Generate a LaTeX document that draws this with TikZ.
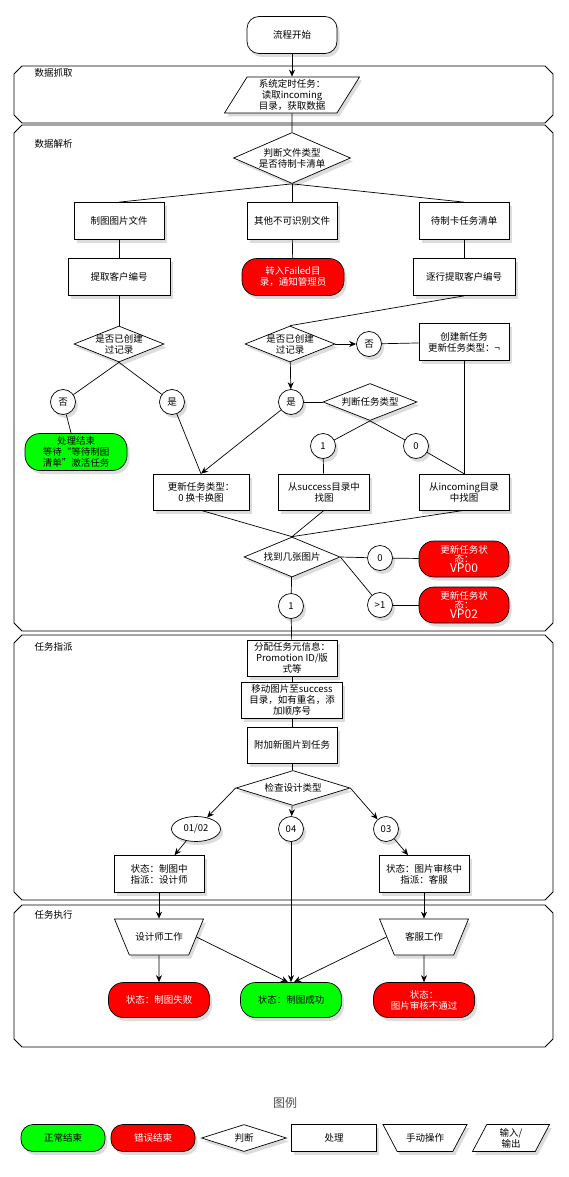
\documentclass[tikz,border=0pt]{standalone}
\usepackage{fontspec}
\setmainfont{Noto Sans CJK SC}
\usetikzlibrary{shapes.geometric,shadows,arrows.meta}
\definecolor{okgreen}{RGB}{0,255,0}
\definecolor{errred}{RGB}{255,0,0}
\tikzset{>={Stealth[length=7pt,width=6pt]}}

\begin{document}
\begin{tikzpicture}[x=1pt,y=-1pt,line width=0.7pt,
  font=\fontsize{9.5}{11}\selectfont,
  nodeshadow/.style={drop shadow={shadow xshift=2.5pt,shadow yshift=-3.5pt,opacity=0.28}},
  proc/.style={draw,fill=white,align=center,inner sep=1pt,minimum width=90,minimum height=37,nodeshadow},
  endok/.style={proc,rounded corners=15pt,fill=okgreen},
  enderr/.style={proc,rounded corners=15pt,fill=errred,text=white},
  dec/.style={draw,fill=white,diamond,aspect=2.5,inner sep=-4pt,align=center,nodeshadow},
  pick/.style={draw,fill=white,circle,minimum size=25,inner sep=0pt,nodeshadow},
  manual/.style={draw,fill=white,trapezium,shape border rotate=180,trapezium angle=65,trapezium stretches body,minimum width=89,minimum height=36,inner xsep=1pt,inner ysep=11.5pt,nodeshadow},
  io/.style={draw,fill=white,trapezium,trapezium left angle=54,trapezium right angle=126,trapezium stretches body,align=center,inner sep=0pt,minimum height=36,nodeshadow},
  lane/.style={draw,line width=0.8pt},
  lanetext/.style={anchor=west},
  tight/.style={font=\fontsize{9.5}{9.5}\selectfont}]
\useasboundingbox (0,0) rectangle (568,1177);

\foreach \ya/\yb/\yt/\lname in {66/123/73/数据抓取,125/631/144/数据解析,635/900/647/任务指派,905/1047/915/任务执行}{
  \draw[lane] (22,\ya) -- (545,\ya) -- (553,\ya+8) -- (553,\yb-8) -- (545,\yb) -- (22,\yb) -- (14,\yb-8) -- (14,\ya+8) -- cycle;
  \node[lanetext] (lane\ya) at (31,\yt) {\lname};
}

\node[proc,rounded corners=12pt] (start) at (292,35) {流程开始};
\node[io,minimum width=135] (fetch) at (292,95) {系统定时任务：\\读取incoming\\目录，获取数据};
\node[dec,minimum width=117,minimum height=51] (filetype) at (292,158) {判断文件类型\\是否待制卡清单};
\node[proc] (imgfile) at (119,221) {制图图片文件};
\node[proc] (otherfile) at (292,221) {其他不可识别文件};
\node[proc] (cardlist) at (464,221) {待制卡任务清单};
\node[proc,minimum width=102] (getcust) at (119,277) {提取客户编号};
\node[enderr,minimum width=102] (failed) at (293,277) {转入Failed目\\录，通知管理员};
\node[proc,minimum width=102] (rowcust) at (464,277) {逐行提取客户编号};
\node[dec,minimum width=90,minimum height=36] (hasrecA) at (119,344) {是否已创建\\过记录};
\node[dec,minimum width=90,minimum height=36] (hasrecB) at (290,344) {是否已创建\\过记录};
\node[pick] (noB) at (369,344) {否};
\node[proc] (newtask) at (464,342) {创建新任务\\更新任务类型：¬};
\node[pick] (noA) at (63,402) {否};
\node[pick] (yesA) at (172,402) {是};
\node[pick] (yesB) at (291,402) {是};
\node[dec,minimum width=94,minimum height=37] (tasktype) at (370,402) {判断任务类型};
\node[endok,minimum width=102] (waitend) at (76,452) {处理结束\\等待“等待制图\\清单”激活任务};
\node[pick] (typeone) at (323,446) {1};
\node[pick] (typezero) at (416,446) {0};
\node[proc,minimum width=96,minimum height=36] (settype) at (201,492) {更新任务类型：\\0 换卡换图};
\node[proc,minimum width=91,minimum height=36] (fromsucc) at (324,492) {从success目录中\\找图};
\node[proc,minimum height=36] (fromin) at (464,492) {从incoming目录\\中找图};
\node[dec,minimum width=96,minimum height=40] (imgcount) at (292,557) {找到几张图片};
\node[pick] (cntzero) at (380,558) {0};
\node[enderr,tight,minimum height=36] (vpzero) at (464,559) {更新任务状\\态：\\{\large VP00}};
\node[pick] (cntmore) at (380,605) {>1};
\node[enderr,tight,minimum height=36] (vptwo) at (464,605) {更新任务状\\态：\\{\large VP02}};
\node[pick] (cntone) at (291,606) {1};

\node[proc,minimum height=36] (meta) at (292,658) {分配任务元信息：\\Promotion ID/版\\式等};
\node[proc,minimum width=101,minimum height=36] (moveimg) at (292,700) {移动图片至success\\目录，如有重名，添\\加顺序号};
\node[proc,minimum height=36] (attach) at (292,745) {附加新图片到任务};
\node[dec,minimum width=114,minimum height=35] (design) at (293,788) {检查设计类型};
\node[pick,ellipse,minimum width=49,minimum height=25] (dzero) at (196,829) {01/02};
\node[pick] (dfour) at (291,829) {04};
\node[pick] (dthree) at (386,829) {03};
\node[proc] (drawing) at (159,874) {状态：制图中\\指派：设计师};
\node[proc] (review) at (424,874) {状态：图片审核中\\指派：客服};

\node[manual] (designer) at (159,937) {设计师工作};
\node[manual] (service) at (424,937) {客服工作};
\node[enderr,minimum width=101,minimum height=35] (drawfail) at (159,1000) {状态：制图失败};
\node[endok,minimum width=101,minimum height=35] (drawok) at (291,1000) {状态：制图成功};
\node[enderr,minimum width=101,minimum height=35] (reject) at (424,1000) {状态：\\图片审核不通过};

\node[font=\fontsize{12}{14}\selectfont,text=black!70] (legend) at (285,1103) {图例};
\node[endok,minimum width=84,minimum height=27,rounded corners=12pt] (lgok) at (63,1138) {正常结束};
\node[enderr,minimum width=84,minimum height=27,rounded corners=12pt] (lgerr) at (153,1138) {错误结束};
\node[dec,minimum width=85,minimum height=27] (lgdec) at (244,1138) {判断};
\node[proc,minimum width=85,minimum height=27] (lgproc) at (334,1138) {处理};
\node[manual,minimum width=84,minimum height=27,inner ysep=7pt,trapezium angle=58] (lgman) at (425,1138) {手动操作};
\node[io,minimum width=77,minimum height=27,inner ysep=2pt,trapezium left angle=59,trapezium right angle=121] (lgio) at (511,1138) {输入/\\输出};

\draw[->] (start) -- (fetch);
\draw (fetch) -- (filetype);
\draw (filetype.south) -- (imgfile.north);
\draw (filetype.south) -- (otherfile.north);
\draw (filetype.south) -- (cardlist.north);
\draw (imgfile) -- (getcust);
\draw (otherfile) -- (failed);
\draw (cardlist) -- (rowcust);
\draw (getcust) -- (hasrecA);
\draw (rowcust.south) -- (hasrecB.north);
\draw[->] (hasrecB) -- (noB);
\draw (noB) -- (newtask);
\draw[->] (hasrecB) -- (yesB);
\draw (hasrecA.south) -- (noA);
\draw (hasrecA.south) -- (yesA);
\draw (noA) -- (waitend);
\draw (yesA) -- (settype.north);
\draw[->] (yesB) -- (settype.north);
\draw (yesB) -- (tasktype);
\draw (tasktype.south) -- (typeone);
\draw (tasktype.south) -- (typezero);
\draw (typeone) -- (fromsucc);
\draw (typezero) -- (fromin.north);
\draw (newtask) -- (fromin);
\draw (settype.south) -- (imgcount.north);
\draw (fromsucc.south) -- (imgcount.north);
\draw (fromin.south) -- (imgcount.north);
\draw (imgcount.east) -- (cntzero);
\draw (cntzero) -- (vpzero);
\draw (imgcount.east) -- (cntmore);
\draw (cntmore) -- (vptwo);
\draw (imgcount) -- (cntone);
\draw (cntone) -- (meta);
\draw (meta) -- (moveimg);
\draw (moveimg) -- (attach);
\draw (attach) -- (design);
\draw[->] (design.west) -- (dzero);
\draw[->] (design) -- (dfour);
\draw[->] (design.east) -- (dthree);
\draw[->] (dzero) -- (drawing);
\draw[->] (dthree) -- (review);
\draw[->] (dfour) -- (drawok);
\draw[->] (drawing) -- (designer);
\draw[->] (review) -- (service);
\draw[->] (designer) -- (drawfail);
\draw[->] (designer.east) -- ([xshift=-3pt]drawok.north);
\draw[->] (service.west) -- ([xshift=3pt]drawok.north);
\draw[->] (service) -- (reject);
\end{tikzpicture}
\end{document}
